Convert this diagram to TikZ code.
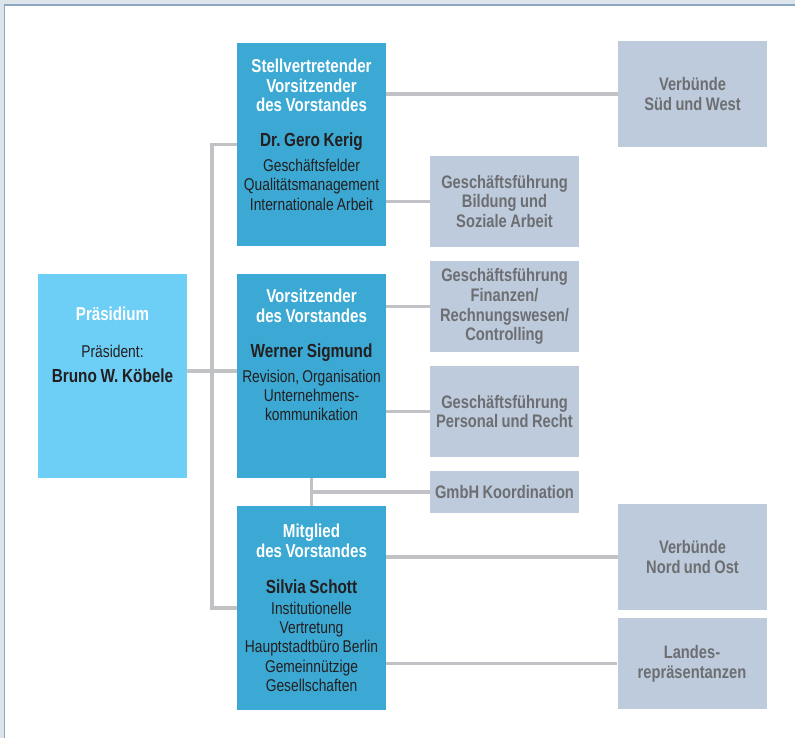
\documentclass[tikz,border=0pt]{standalone}
\usepackage{fontspec}
\setmainfont{Liberation Sans}[FakeStretch=0.81,WordSpace=0.85]
\usetikzlibrary{calc}
\definecolor{boardblue}{HTML}{3BA9D3}
\definecolor{presblue}{HTML}{6DCFF6}
\definecolor{deptgray}{HTML}{BDCBDC}
\definecolor{linegray}{HTML}{C1C2C6}
\definecolor{textgray}{HTML}{6D6E71}
\definecolor{textdark}{HTML}{231F20}
\definecolor{pagegray}{HTML}{DDE4EA}
\definecolor{framegray}{HTML}{8BA7C1}
\newcommand{\boxhead}{\fontsize{14}{14.5}\selectfont\bfseries\color{white}}
\newcommand{\boxname}{\fontsize{14.2}{14.5}\selectfont\bfseries\color{textdark}}
\newcommand{\boxbody}{\fontsize{12.8}{14.5}\selectfont\mdseries\color{textdark}}
\frenchspacing

\begin{document}
\begin{tikzpicture}[x=0.75pt,y=-0.75pt,
  board/.style={fill=boardblue,minimum width=111.75pt,minimum height=153pt,inner sep=0pt},
  pres/.style={board,fill=presblue},
  boxtext/.style={anchor=north,inner sep=0pt,text width=110pt,align=flush center,
    font=\fontsize{12.8}{14.5}\selectfont},
  dept/.style={fill=deptgray,minimum width=111.75pt,inner sep=0pt,align=center,
    text=textgray,font=\fontsize{13.6}{14.8}\selectfont\bfseries},
  link/.style={draw=linegray,line width=2.6pt}]

% ---------------- page ----------------
\useasboundingbox (0,0) rectangle (795,738);
\fill[pagegray] (0,0) rectangle (795,738);
\fill[white] (4.5,5) rectangle (795,738);
\draw[framegray,line width=1.2pt] (795,5) -- (4.5,5) -- (4.5,738);

% ---------------- Praesidium and Vorstand ----------------
\node[pres,label={[boxtext,yshift=-25pt]north:{\boxhead Präsidium\\[13.25pt]\boxbody Präsident:\\[4.25pt]\boxname Bruno W. Köbele}}] (praes) at (112.5,376) {};

\node[board,minimum height=152.25pt,label={[boxtext,yshift=-12.3pt]north:{\boxhead Stellvertretender\\Vorsitzender\\des Vorstandes\\[11.75pt]\boxname Dr. Gero Kerig\\[4.25pt]\boxbody Geschäftsfelder\\Qualitätsmanagement\\Internationale Arbeit}}] (stv) at (311.5,144.5) {};

\node[board,label={[boxtext,yshift=-11.5pt]north:{\boxhead Vorsitzender\\des Vorstandes\\[11.75pt]\boxname Werner Sigmund\\[4.25pt]\boxbody Revision, Organisation\\Unternehmens-\\kommunikation}}] (vors) at (311.5,376) {};

\node[board,label={[boxtext,yshift=-13.8pt]north:{\boxhead Mitglied\\des Vorstandes\\[12.5pt]\boxname Silvia Schott\\[1.25pt]\boxbody Institutionelle\\Vertretung\\Hauptstadtbüro Berlin\\Gemeinnützige\\Gesellschaften}}] (mitg) at (311.5,608) {};

% ---------------- Geschaeftsfuehrung ----------------
\node[dept,minimum height=68.25pt] (bild) at (504.5,201.5) {Geschäftsführung\\Bildung und\\Soziale Arbeit};
\node[dept,minimum height=68.25pt] (fin) at (504.5,306.5) {Geschäftsführung\\Finanzen/\\Rechnungswesen/\\Controlling};
\node[dept,minimum height=68.25pt] (pers) at (504.5,411.5) {Geschäftsführung\\Personal und Recht};
\node[dept,minimum height=31.5pt] (gmbh) at (504.5,492) {GmbH Koordination};

% ---------------- Verbuende ----------------
\node[dept,minimum height=79.5pt] (sued) at (692.5,94) {Verbünde\\Süd und West};
\node[dept,minimum height=79.5pt] (nord) at (692.5,557) {Verbünde\\Nord und Ost};
\node[dept,minimum height=68.25pt] (landes) at (692,663.5) {Landes-\\repräsentanzen};

% ---------------- lines ----------------
\draw[link] ([yshift=3.75pt]praes.east) -- ([yshift=3.75pt]vors.west);
\draw[link] (stv.west) -| ($(praes.east)!.5!(stv.west)$) |- (mitg.west);
\draw[link] (vors.south) -- (mitg.north);
\draw[link] (gmbh.west) -- (gmbh.west -| vors.south);

\draw[link] (stv.east |- sued.west) -- (sued.west);
\draw[link] (stv.east |- bild.west) -- (bild.west);
\draw[link] (vors.east |- fin.west) -- (fin.west);
\draw[link] (vors.east |- pers.west) -- (pers.west);
\draw[link] (mitg.east |- nord.west) -- (nord.west);
\draw[link] (mitg.east |- landes.west) -- (landes.west);

\end{tikzpicture}
\end{document}
